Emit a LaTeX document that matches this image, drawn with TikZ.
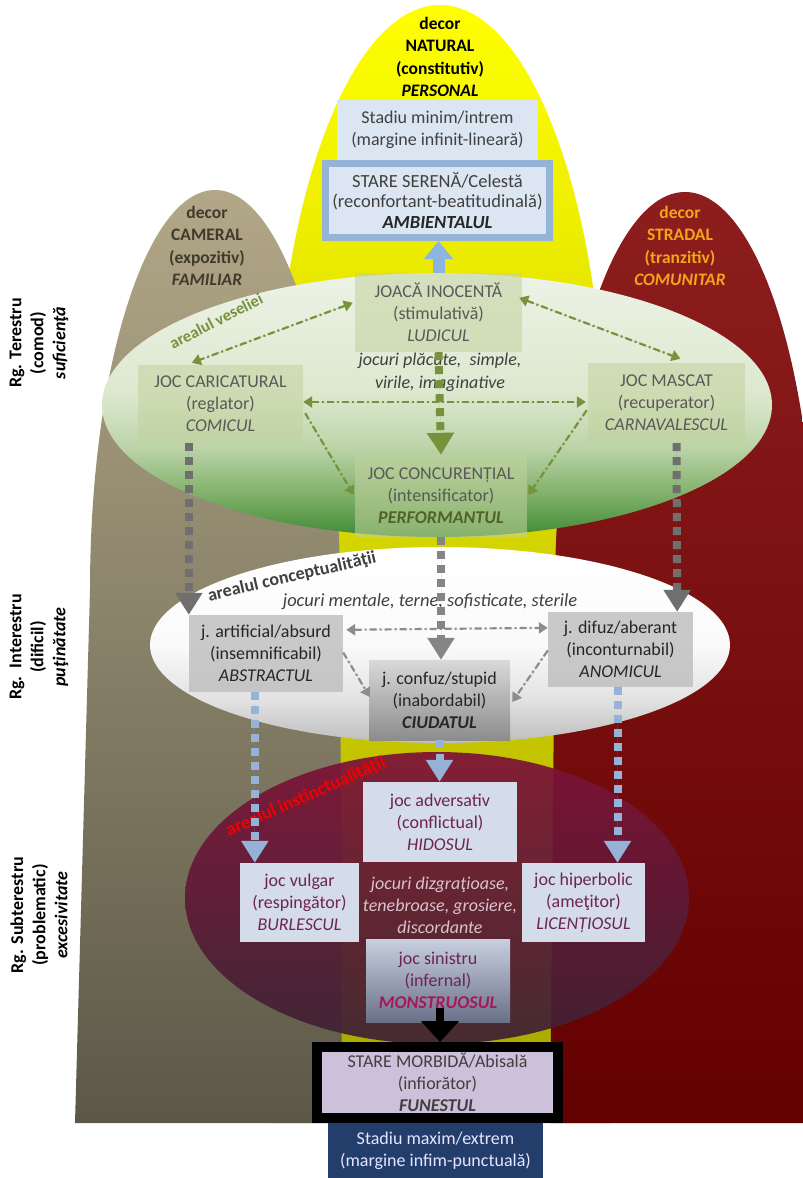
\documentclass[tikz,border=0pt]{standalone}
\usepackage{fontspec}
\setmainfont{Carlito}
\usetikzlibrary{arrows.meta,calc}
\definecolor{yel}{HTML}{FFFF00}
\definecolor{yelD}{HTML}{A6A600}
\definecolor{tanT}{HTML}{B2A787}
\definecolor{tanB}{HTML}{5C5848}
\definecolor{redT}{HTML}{8E1E1E}
\definecolor{redB}{HTML}{630000}
\definecolor{grnT}{HTML}{EDF2E6}
\definecolor{grnM}{HTML}{DCE8CE}
\definecolor{grn3}{HTML}{BCD4A8}
\definecolor{grn2}{HTML}{80B06A}
\definecolor{grnB}{HTML}{3E8A34}
\definecolor{gy1}{HTML}{BDBDBD}
\definecolor{gy2}{HTML}{E2E2E2}
\definecolor{gy3}{HTML}{FAFAFA}
\definecolor{gbox}{HTML}{C2D29E}
\definecolor{gtxt}{HTML}{595959}
\definecolor{garrow}{HTML}{76923C}
\definecolor{dkgreen}{HTML}{4F6228}
\definecolor{greyarrow}{HTML}{6F6F6F}
\definecolor{greydd}{HTML}{8C8C8C}
\definecolor{bluearrow}{HTML}{95B3D7}
\definecolor{bluebold}{HTML}{8DB3E2}
\definecolor{paleblue}{HTML}{DCE6F2}
\definecolor{purT}{HTML}{7E1238}
\definecolor{purB}{HTML}{3E2234}
\definecolor{ptxt}{HTML}{6B2456}
\definecolor{mag}{HTML}{A3195B}
\definecolor{lav}{HTML}{CCC0DA}
\definecolor{navy}{HTML}{243E6C}
\definecolor{orangeT}{HTML}{F2A51A}
\definecolor{archdk}{HTML}{403A2C}
\definecolor{pboxc}{HTML}{D5DCE9}
\definecolor{ptext2}{HTML}{D9C3CE}
\definecolor{txtdk}{HTML}{404040}
\definecolor{greyboxc}{HTML}{BDBDBD}
\definecolor{sinT}{HTML}{C8D0DF}
\definecolor{sinB}{HTML}{6A7088}
\definecolor{cfT}{HTML}{D9D9D9}
\definecolor{cfB}{HTML}{8C8C8C}
\pgfdeclareverticalshading{greenell}{100bp}{color(0bp)=(grnB); color(25bp)=(grnB); color(33bp)=(grn2); color(42bp)=(grn3); color(52bp)=(grnM); color(75bp)=(grnT); color(100bp)=(grnT)}
\pgfdeclareverticalshading{greyell}{100bp}{color(0bp)=(gy1); color(25bp)=(gy1); color(36bp)=(gy2); color(50bp)=(gy3); color(75bp)=(white); color(100bp)=(white)}
\begin{document}
\begin{tikzpicture}[x=1pt,y=-1pt,
  txt/.style={inner sep=0pt, align=center, font=\fontsize{18}{22}\selectfont},
  archtxt/.style={inner sep=0pt, align=center, font=\bfseries\fontsize{17.5}{22.3}\selectfont},
  sidelbl/.style={inner sep=0pt, align=center, rotate=90, font=\bfseries\fontsize{18}{22}\selectfont},
  gbx/.style={txt, fill=gbox, fill opacity=0.55, text opacity=1, text=gtxt},
  greybx/.style={txt, fill=greyboxc, fill opacity=0.8, text opacity=1, text=black!85},
  pbx/.style={txt, fill=pboxc, text=ptxt},
  thickdash/.style={line width=8pt, dash pattern=on 8pt off 6pt, -{Triangle[width=26pt,length=22pt]}},
  ddboth/.style={line width=2.2pt, dash pattern=on 7pt off 3pt on 2pt off 3pt, {Triangle[width=11pt,length=9pt]}-{Triangle[width=11pt,length=9pt]}},
  ddone/.style={line width=2.2pt, dash pattern=on 7pt off 3pt on 2pt off 3pt, -{Triangle[width=11pt,length=9pt]}}
]
\useasboundingbox (0,0) rectangle (803,1178);
\fill[white] (0,0) rectangle (803,1178);
\begin{scope}
\clip (0,0) rectangle (803,1178);
% arches
\shade[top color=yel, bottom color=yelD] (270,1123) -- (275,455) .. controls (275,206.5) and (349,5) .. (440,5) .. controls (531,5) and (605,206.5) .. (605,455) -- (610,1123) -- cycle;
\shade[top color=tanT, bottom color=tanB] (75,1123) -- (90,590) .. controls (90,369) and (146,190) .. (215,190) .. controls (284,190) and (340,369) .. (340,590) -- (342,1123) -- cycle;
\shade[top color=redT, bottom color=redB] (550,1123) -- (555,592) .. controls (555,371) and (613,192) .. (685,192) .. controls (757,192) and (815,371) .. (815,592) -- (820,1123) -- cycle;
\end{scope}

% arch labels
\node[archtxt, text=black] (nat) at (440,57) {decor\\NATURAL\\(constitutiv)\\\textit{PERSONAL}};
\node[archtxt, text=archdk] (cam) at (207,246) {decor\\CAMERAL\\(expozitiv)\\\textit{FAMILIAR}};
\node[archtxt, text=orangeT] (strd) at (680,246) {decor\\STRADAL\\(tranzitiv)\\\textit{COMUNITAR}};

% side labels
\node[sidelbl] (lt) at (39,343) {Rg. Terestru\\(comod)\\\textit{suficienţă}};
\node[sidelbl] (li) at (39,647) {Rg.\ \ Interestru\\(dificil)\\\textit{puţinătate}};
\node[sidelbl] (ls) at (39,915) {Rg. Subterestru\\(problematic)\\\textit{excesivitate}};

% ellipses
\shade[shading=greenell] (437,405) ellipse [x radius=335, y radius=132];
\shade[shading=greyell] (440,645) ellipse [x radius=290, y radius=98];
\shade[top color=purT, bottom color=purB, opacity=0.93] (437,898) ellipse [x radius=252, y radius=146];

% top boxes
\node[txt, fill=paleblue, text=txtdk, minimum width=201pt, minimum height=60pt] (smin) at (437.5,130) {Stadiu minim/intrem\\(margine infinit-lineară)};
\node[txt, font=\fontsize{18.5}{20.5}\selectfont, fill=paleblue, draw=bluearrow, line width=7pt, text=txtdk, minimum width=224pt, minimum height=74pt] (ser) at (437.5,200.5) {STARE SERENĂ/Celestă\\(reconfortant-beatitudinală)\\\textbf{\textit{\color{black!85}AMBIENTALUL}}};

% green area
\node[gbx, minimum width=167pt, minimum height=79pt] (joaca) at (438.5,312.5) {JOACĂ INOCENTĂ\\(stimulativă)\\\textit{LUDICUL}};
\node[txt, text=txtdk, font=\itshape\fontsize{18}{23}\selectfont] (jpl) at (440,372) {jocuri plăcute,\ \ simple,\\virile, imaginative};
\node[gbx, minimum width=165pt, minimum height=78pt] (caric) at (220.5,404) {JOC CARICATURAL\\(reglator)\\\textit{COMICUL}};
\node[gbx, minimum width=157pt, minimum height=80pt] (mascat) at (666.5,403) {JOC MASCAT\\(recuperator)\\\textit{CARNAVALESCUL}};
\node[gbx, minimum width=172pt, minimum height=82pt] (concur) at (441,496) {JOC CONCURENȚIAL\\(intensificator)\\\textbf{\textit{\color{dkgreen}PERFORMANTUL}}};
\node[inner sep=0pt, rotate=27, text=garrow, font=\bfseries\fontsize{16.5}{18}\selectfont] (av) at (216,321) {arealul veseliei};

% grey area
\node[txt, text=txtdk, font=\itshape\fontsize{18.5}{22}\selectfont] (jmt) at (430,602) {jocuri mentale, terne, sofisticate, sterile};
\node[greybx, minimum width=154pt, minimum height=77pt] (artif) at (266,653.5) {j. artificial/absurd\\(insemnificabil)\\\textit{ABSTRACTUL}};
\node[txt, text=black!85, top color=cfT, bottom color=cfB, minimum width=141pt, minimum height=80pt] (confuz) at (439.5,700) {j. confuz/stupid\\(inabordabil)\\\textbf{\textit{CIUDATUL}}};
\node[greybx, minimum width=145pt, minimum height=75pt] (difuz) at (620.5,649.5) {j. difuz/aberant\\(inconturnabil)\\\textit{ANOMICUL}};
\node[inner sep=0pt, rotate=13, text=txtdk, font=\bfseries\fontsize{18}{20}\selectfont] (ac) at (292,577) {arealul conceptualităţii};

% purple area
\node[pbx, minimum width=154pt, minimum height=80pt] (advers) at (440,822) {joc adversativ\\(conflictual)\\\textit{HIDOSUL}};
\node[pbx, minimum width=119pt, minimum height=79pt] (vulgar) at (299.5,902.5) {joc vulgar\\(respingător)\\\textit{BURLESCUL}};
\node[pbx, minimum width=123pt, minimum height=79pt] (hiperb) at (583.5,902.5) {joc hiperbolic\\(ameţitor)\\\textit{LICENȚIOSUL}};
\node[txt, text=ptext2, font=\itshape\fontsize{18}{22}\selectfont] (jdz) at (440,905) {jocuri dizgraţioase,\\tenebroase, grosiere,\\discordante};
\node[txt, text=ptxt, top color=sinT, bottom color=sinB, minimum width=144pt, minimum height=83pt] (sinis) at (438,980.5) {joc sinistru\\(infernal)\\\textbf{\textit{\color{mag}MONSTRUOSUL}}};
\node[inner sep=0pt, rotate=24, text=red!95!black, font=\bfseries\fontsize{18.5}{20}\selectfont] (ai) at (306,797) {arealul instinctualităţii};

% bottom boxes
\node[txt, fill=lav, draw=black, line width=10pt, text=txtdk, minimum width=241pt, minimum height=71pt] (morb) at (437.5,1082.5) {STARE MORBIDĂ/Abisală\\(infiorător)\\\textbf{\textit{FUNESTUL}}};
\node[txt, fill=navy, text=white!90!blue, minimum width=215pt, minimum height=55pt] (smax) at (435.5,1150.5) {Stadiu maxim/extrem\\(margine infim-punctuală)};

% connectors: green
\draw[ddboth, draw=garrow, fill=garrow] ($(joaca.north west)+(-2,30)$) -- ($(caric.north west)+(54,-2)$);
\draw[ddboth, draw=garrow, fill=garrow] ($(joaca.north east)+(-3,25)$) -- ($(mascat.north)+(14,-4)$);
\draw[ddboth, draw=garrow, fill=garrow] ($(caric.east)+(0,-2)$) -- ($(mascat.west)+(-2,-1)$);
\draw[ddone, draw=garrow, fill=garrow] ($(caric.south east)+(2,-30)$) -- ($(concur.west)+(-1,-1)$);
\draw[ddone, draw=garrow, fill=garrow] ($(mascat.south west)+(-1,-33)$) -- ($(concur.east)+(1,-1)$);
\draw[thickdash, draw=garrow, fill=garrow] (joaca.south) -- (concur.north);
% grey
\draw[thickdash, draw=greyarrow, fill=greyarrow] (caric.south -| artif.north west) -- (artif.north west);
\draw[thickdash, draw=greyarrow!85, fill=greyarrow!85] (concur.south) -- (concur.south |- confuz.north);
\draw[thickdash, draw=greyarrow, fill=greyarrow] ($(mascat.south)+(10,0)$) -- ($(difuz.north east)+(-16,0)$);
\draw[ddboth, draw=greydd, fill=greydd] ($(artif.north east)+(3,15)$) -- ($(difuz.north west)+(0,16)$);
\draw[ddone, draw=greydd, fill=greydd] ($(artif.east)+(0,-1)$) -- ($(confuz.west)+(1,-3)$);
\draw[ddone, draw=greydd, fill=greydd] ($(difuz.west)+(0,1)$) -- ($(confuz.east)+(2,2)$);
% blue
\draw[thickdash, draw=bluearrow, fill=bluearrow] ($(artif.south west)+(66,0)$) -- ($(vulgar.north west)+(15,0)$);
\draw[thickdash, draw=bluearrow, fill=bluearrow] (confuz.south) -- (confuz.south |- advers.north);
\draw[thickdash, draw=bluearrow, fill=bluearrow] ($(difuz.south)+(-3,0)$) -- ($(hiperb.north)+(34,0)$);
\draw[line width=12pt, draw=bluebold, fill=bluebold, -{Triangle[width=28pt,length=18pt]}] (joaca.north) -- (joaca.north |- ser.south);
% black
\draw[line width=8pt, draw=black, fill=black, -{Triangle[width=37pt,length=21pt]}] ($(sinis.south)+(2,-14)$) -- ($(morb.north)+(2.5,0)$);
\end{tikzpicture}
\end{document}
